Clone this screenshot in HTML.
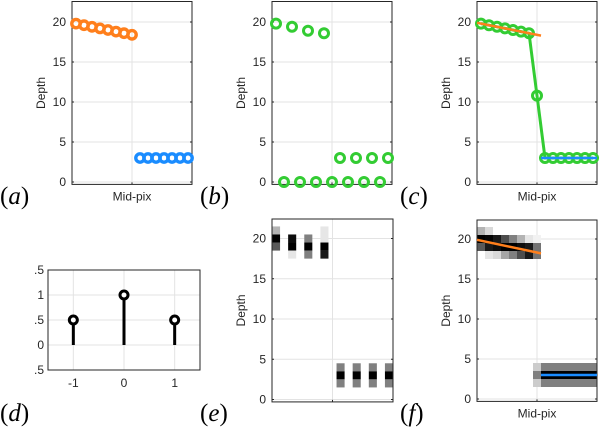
<!DOCTYPE html>
<html><head><meta charset="utf-8"><style>
body{margin:0;background:#fff;}
svg{display:block;font-family:"Liberation Sans",sans-serif;}
</style></head><body>
<svg id="fig" width="600" height="428" viewBox="0 0 600 428"></svg>
<script>
// ---- data ----
const aOrange=[19.8,19.6,19.4,19.2,19.0,18.8,18.6,18.4];
const aBlue=[3,3,3,3,3,3,3];
const bUpperIdx=[1,3,5,7];
const bUpper=[19.8,19.4,18.9,18.6];
const bZeroIdx=[2,4,6,8,10,12,14];
const bZero=[0,0,0,0,0,0,0];
const bLowerIdx=[9,11,13,15];
const bLower=[3,3,3,3];
const cGreen=[19.8,19.6,19.4,19.2,19.0,18.8,18.6,10.8,3,3,3,3,3,3,3];
const cOrangeLine=[19.9,18.3];
const cBlue=[3,3];
const dX=[-1,0,1];
const dY=[0.5,1,0.5];
const dTicksY=[".5","1",".5","0",".5"];
const dTickYVals=[1.5,1,0.5,0,-0.5];
const dTicksX=[-1,0,1];
const yTicks=[0,5,10,15,20];
const eCols=[1,3,5,7,9,11,13,15];
const eRows=[21,20,19,18,4,3,2];
const eVals=[
 [0.7,1,1,0.9, 1,1,1,1],
 [0.0,0.05,0.5,0.9, 1,1,1,1],
 [0.35,0.0,0.0,0.0, 1,1,1,1],
 [1,0.9,0.5,0.1, 1,1,1,1],
 [1,1,1,1, 0.5,0.5,0.5,0.5],
 [1,1,1,1, 0,0,0,0],
 [1,1,1,1, 0.5,0.5,0.5,0.5]
];
const fRows=[21,20,19,18,4,3,2];
const fVals=[
 [0.7,0.85,1,1,1,1,1,1, 1,1,1,1,1,1,1],
 [0.0,0.02,0.1,0.3,0.5,0.7,0.9,0.95, 1,1,1,1,1,1,1],
 [0.35,0.1,0.05,0.0,0.0,0.05,0.1,0.45, 1,1,1,1,1,1,1],
 [1,0.9,0.85,0.65,0.5,0.3,0.1,0.45, 1,1,1,1,1,1,1],
 [1,1,1,1,1,1,1,0.8, 0.5,0.5,0.5,0.5,0.5,0.5,0.5],
 [1,1,1,1,1,1,1,0.5, 0,0,0,0,0,0,0],
 [1,1,1,1,1,1,1,0.8, 0.5,0.5,0.5,0.5,0.5,0.5,0.5]
];
const fOrangeLine=[19.9,18.2];
const fBlue=[3,3];

const NS="http://www.w3.org/2000/svg";
const svg=document.getElementById('fig');
function el(tag,attrs,parent){const e=document.createElementNS(NS,tag);for(const k in attrs)e.setAttribute(k,attrs[k]);(parent||svg).appendChild(e);return e;}
const ORANGE="#ff7f1c",BLUE="#1a8cff",GREEN="#33cc33",AX="#262626",GRID="#e3e3e3";
const FS=12;

function makeAxes(name,x0,x1,yTop,yZero,ppu,midLabel){
  const g=el('g',{});
  
  
  const X=i=>x0+(x1-x0)/15*(i-0.5);
  const Y=v=>yZero-ppu*v;
  const yBot=yZero+ppu*0.3;
  yTicks.forEach(t=>{
    const l=el('line',{x1:x0,x2:x1,y1:Y(t),y2:Y(t),stroke:GRID,'stroke-width':1},g);
    
    
  });
  el('line',{x1:X(8),x2:X(8),y1:yTop,y2:yBot,stroke:GRID,'stroke-width':1},g);
  yTicks.forEach(t=>{
    el('line',{x1:x0,x2:x0+2,y1:Y(t),y2:Y(t),stroke:AX},g);
    el('line',{x1:x1,x2:x1-2,y1:Y(t),y2:Y(t),stroke:AX},g);
    const tx=el('text',{x:x0-6,y:Y(t)+4,'text-anchor':'end','font-size':FS,fill:AX},g);
    tx.textContent=t;
    
    
  });
  el('line',{x1:X(8),x2:X(8),y1:yBot,y2:yBot-2,stroke:AX},g);
  const lab=el('text',{transform:`translate(${x0-27},${(yTop+yBot)/2}) rotate(-90)`,'text-anchor':'middle','font-size':FS,fill:AX},g);
  lab.textContent='Depth';
  
  
  if(midLabel){
    const m=el('text',{x:X(8),y:yBot+16,'text-anchor':'middle','font-size':FS,fill:AX},g);
    m.textContent='Mid-pix';
    
    
  }
  const box=el('rect',{x:x0,y:yTop,width:x1-x0,height:yBot-yTop,fill:'none',stroke:AX,'stroke-width':1},g);
  return {g,X,Y,x0,x1,box};
}
function circle(ax,i,v,color,r,sw,name){
  const c=el('circle',{cx:ax.X(i),cy:ax.Y(v),r:r,fill:'none',stroke:color,'stroke-width':sw},ax.g);
  
  
}
function panelLabel(txt,x,y,name){
  const t=el('text',{x:x,y:y,'font-family':'"Liberation Serif",serif','font-size':25,fill:'#000'});
  t.innerHTML=`(<tspan font-style="italic">${txt}</tspan>)`;
  
  
}
function heat(ax,cols,rows,vals){
  const w=(ax.x1-ax.x0)/15, h=(ax.Y(0)-ax.Y(1));
  rows.forEach((r,ri)=>cols.forEach((c,ci)=>{
    const v=vals[ri][ci]; if(v>=0.99) return;
    const gv=Math.round(v*255);
    const rc=el('rect',{x:ax.X(c)-w/2,y:ax.Y(r+0.5),width:w,height:h,fill:`rgb(${gv},${gv},${gv})`},ax.g);
    
    
  }));
  ax.g.appendChild(ax.box);
}

// (a)
const A=makeAxes('panel-a',72,192,1.5,182,8,true);
aOrange.forEach((v,k)=>circle(A,k+1,v,ORANGE,4.2,3.4,'orange-marker'));
aBlue.forEach((v,k)=>circle(A,k+9,v,BLUE,4.2,3.4,'blue-marker'));
panelLabel('a',0,204,'panel-label-a');
// (b)
const B=makeAxes('panel-b',272,392,1.5,182,8,false);
bUpperIdx.forEach((i,k)=>circle(B,i,bUpper[k],GREEN,4.5,3,'green-marker'));
bZeroIdx.forEach((i,k)=>circle(B,i,bZero[k],GREEN,4.5,3,'green-marker'));
bLowerIdx.forEach((i,k)=>circle(B,i,bLower[k],GREEN,4.5,3,'green-marker'));
panelLabel('b',200,204,'panel-label-b');
// (c)
const C=makeAxes('panel-c',477,597,1.5,182,8,true);
const pts=cGreen.map((v,k)=>`${C.X(k+1)},${C.Y(v)}`).join(' ');
const pl=el('polyline',{points:pts,fill:'none',stroke:GREEN,'stroke-width':3},C.g);


cGreen.forEach((v,k)=>circle(C,k+1,v,GREEN,4.5,3,'green-marker'));
const co=el('line',{x1:C.X(0.5),y1:C.Y(cOrangeLine[0]),x2:C.X(8.5),y2:C.Y(cOrangeLine[1]),stroke:ORANGE,'stroke-width':2.5},C.g);


const cb=el('line',{x1:C.X(8.5),y1:C.Y(cBlue[0]),x2:C.X(15.5),y2:C.Y(cBlue[1]),stroke:BLUE,'stroke-width':2.5},C.g);


panelLabel('c',400,204,'panel-label-c');
// (d)
(function(){
  const g=el('g',{});
  
  
  const x0=48,x1=200,yT=270,yB=370;
  const X=v=>x0+(v+1.5)/3*(x1-x0);
  const Y=v=>yB-(v+0.5)/2*(yB-yT);
  dTickYVals.forEach((t,k)=>{
    el('line',{x1:x0,x2:x1,y1:Y(t),y2:Y(t),stroke:GRID},g);
    const tx=el('text',{x:x0-4,y:Y(t)+4,'text-anchor':'end','font-size':FS,fill:AX},g);
    tx.textContent=dTicksY[k];
    
    
  });
  dTicksX.forEach(t=>{
    el('line',{x1:X(t),x2:X(t),y1:yT,y2:yB,stroke:GRID},g);
    const tx=el('text',{x:X(t),y:yB+17,'text-anchor':'middle','font-size':FS,fill:AX},g);
    tx.textContent=t;
    
    
  });
  el('rect',{x:x0,y:yT,width:x1-x0,height:yB-yT,fill:'none',stroke:AX},g);
  dX.forEach((x,k)=>{
    const s=el('line',{x1:X(x),x2:X(x),y1:Y(0),y2:Y(dY[k]),stroke:'#000','stroke-width':3},g);
    
    
    const c=el('circle',{cx:X(x),cy:Y(dY[k]),r:4,fill:'#fff',stroke:'#000','stroke-width':3},g);
    
    
  });
})();
panelLabel('d',0,421,'panel-label-d');
// (e)
const E=makeAxes('panel-e',272,393,219,399.5,8.05,false);
heat(E,eCols,eRows,eVals);
panelLabel('e',200,421,'panel-label-e');
// (f)
const F=makeAxes('panel-f',477,597,220,399,8.0,true);
heat(F,[1,2,3,4,5,6,7,8,9,10,11,12,13,14,15],fRows,fVals);
const fo=el('line',{x1:F.X(0.5),y1:F.Y(fOrangeLine[0]),x2:F.X(8.5),y2:F.Y(fOrangeLine[1]),stroke:ORANGE,'stroke-width':2.5},F.g);


const fb=el('line',{x1:F.X(8.5),y1:F.Y(fBlue[0]),x2:F.X(15.5),y2:F.Y(fBlue[1]),stroke:BLUE,'stroke-width':2.5},F.g);


panelLabel('f',400,421,'panel-label-f');
</script>
</body></html>
